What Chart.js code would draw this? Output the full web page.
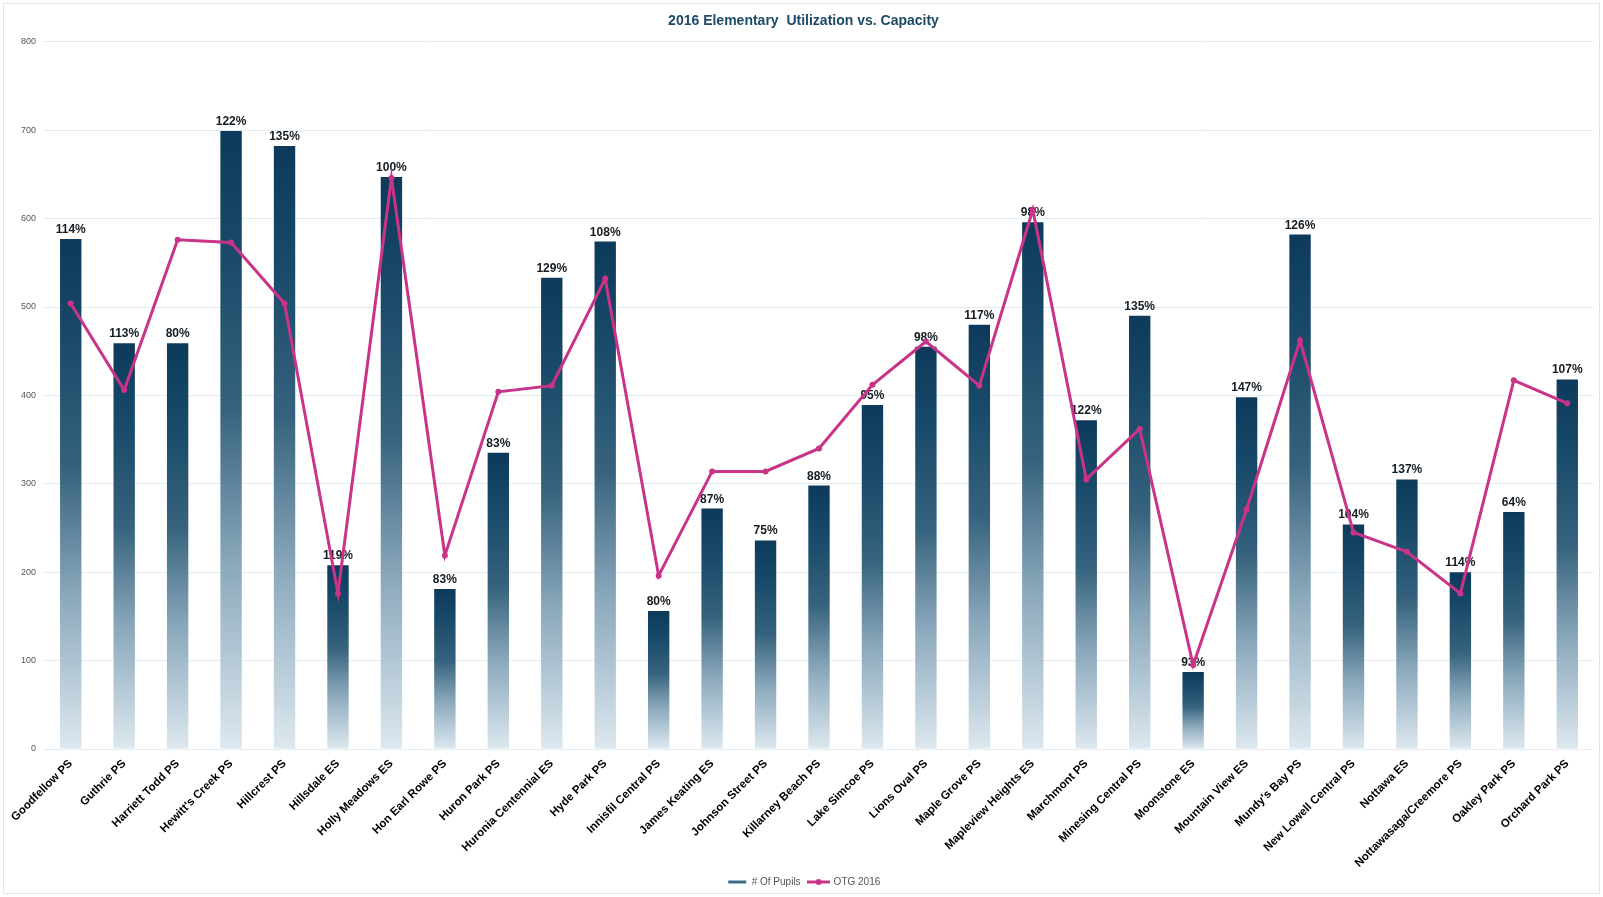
<!DOCTYPE html>
<html>
<head>
<meta charset="utf-8">
<script src="https://cdn.jsdelivr.net/npm/chart.js@4.4.0/dist/chart.umd.min.js"></script>
<style>
html,body{margin:0;padding:0;background:#fff;}
canvas{display:block;}
</style>
</head>
<body>
<canvas id="c" width="1603" height="897"></canvas>
<script>
const categories = ["Goodfellow PS","Guthrie PS","Harriett Todd PS","Hewitt's Creek PS","Hillcrest PS","Hillsdale ES","Holly Meadows ES","Hon Earl Rowe PS","Huron Park PS","Huronia Centennial ES","Hyde Park PS","Innisfil Central PS","James Keating ES","Johnson Street PS","Killarney Beach PS","Lake Simcoe PS","Lions Oval PS","Maple Grove PS","Mapleview Heights ES","Marchmont PS","Minesing Central PS","Moonstone ES","Mountain View ES","Mundy's Bay PS","New Lowell Central PS","Nottawa ES","Nottawasaga/Creemore PS","Oakley Park PS","Orchard Park PS"];
const pupils = [577, 459, 459, 699, 682, 208, 647, 181, 335, 533, 574, 156, 272, 236, 298, 389, 455, 480, 596, 372, 490, 87, 398, 582, 254, 305, 200, 268, 418];
const otg2016 = [504, 406, 576, 573, 504, 176, 646, 219, 404, 411, 532, 196, 314, 314, 340, 412, 461, 411, 610, 305, 362, 95, 271, 462, 245, 223, 176, 417, 391];
const utilization = ["114%","113%","80%","122%","135%","119%","100%","83%","83%","129%","108%","80%","87%","75%","88%","95%","98%","117%","98%","122%","135%","93%","147%","126%","104%","137%","114%","64%","107%"];
const seriesNames = ["# Of Pupils", "OTG 2016"];
const chartTitle = "2016 Elementary  Utilization vs. Capacity";
const yMin = 0, yMax = 800, yStep = 100;

const FONT = "'Liberation Sans', Arial, sans-serif";
const LINE_COLOR = '#c93489';

function barGradient(ctx) {
  const chart = ctx.chart;
  if (!chart.chartArea || ctx.type !== 'data') return '#2d5a75';
  const ys = chart.scales.y;
  const top = ys.getPixelForValue(ctx.raw);
  const bot = ys.getPixelForValue(0);
  if (!isFinite(top) || !isFinite(bot) || bot - top < 1) return '#0f3d5c';
  const g = chart.ctx.createLinearGradient(0, top, 0, bot);
  g.addColorStop(0, '#0d3a5a');
  g.addColorStop(0.2, '#194a69');
  g.addColorStop(0.45, '#36627d');
  g.addColorStop(0.7, '#8aa8bb');
  g.addColorStop(1, '#dde8ef');
  return g;
}

function makeSwatch(kind) {
  const cv = document.createElement('canvas');
  cv.width = 23; cv.height = 8;
  const c = cv.getContext('2d');
  if (kind === 0) {
    c.fillStyle = '#9fb7c7';
    c.fillRect(3, 2, 18, 4);
    c.fillStyle = '#3b6a88';
    c.fillRect(3, 3, 18, 2);
  } else {
    c.strokeStyle = LINE_COLOR;
    c.lineWidth = 3;
    c.beginPath(); c.moveTo(0, 4); c.lineTo(23, 4); c.stroke();
    c.fillStyle = LINE_COLOR;
    c.beginPath(); c.arc(11.5, 4, 3, 0, Math.PI * 2); c.fill();
  }
  return cv;
}
const swatches = [makeSwatch(0), makeSwatch(1)];

const framePlugin = {
  id: 'frame',
  beforeDraw(chart) {
    const c = chart.ctx;
    c.save();
    c.fillStyle = '#ffffff';
    c.fillRect(0, 0, chart.width, chart.height);
    c.strokeStyle = '#dde6ee';
    c.lineWidth = 1;
    c.strokeRect(3.5, 3.5, chart.width - 7, chart.height - 7);
    c.restore();
  }
};

const valueLabelPlugin = {
  id: 'valueLabels',
  afterDatasetDraw(chart, args) {
    if (args.index !== 0) return;
    const c = chart.ctx;
    const meta = chart.getDatasetMeta(0);
    c.save();
    c.font = 'bold 12px ' + FONT;
    c.fillStyle = '#141c22';
    c.textAlign = 'center';
    c.textBaseline = 'alphabetic';
    meta.data.forEach((el, i) => {
      c.fillText(utilization[i], el.x, el.y - 6);
    });
    c.restore();
  }
};

new Chart(document.getElementById('c'), {
  data: {
    labels: categories,
    datasets: [
      {
        type: 'bar',
        label: seriesNames[0],
        data: pupils,
        backgroundColor: barGradient,
        borderWidth: 0,
        barPercentage: 0.4,
        categoryPercentage: 1.0,
        order: 1
      },
      {
        type: 'line',
        label: seriesNames[1],
        data: otg2016,
        borderColor: LINE_COLOR,
        backgroundColor: LINE_COLOR,
        borderWidth: 3,
        pointRadius: 3,
        pointHoverRadius: 3,
        pointBackgroundColor: LINE_COLOR,
        pointBorderWidth: 0,
        tension: 0,
        fill: false,
        order: 0
      }
    ]
  },
  options: {
    responsive: false,
    animation: false,
    devicePixelRatio: 1,
    layout: { padding: { left: 13, right: 9, top: 0, bottom: 0 } },
    plugins: {
      title: {
        display: true,
        text: chartTitle,
        color: '#1d4a66',
        font: { family: FONT, size: 14, weight: 'bold' },
        padding: { top: 13, bottom: 12 }
      },
      legend: {
        display: true,
        position: 'bottom',
        labels: {
          usePointStyle: true,
          pointStyleWidth: 20,
          color: '#555',
          font: { family: FONT, size: 10 },
          padding: 8,
          generateLabels(chart) {
            return seriesNames.map((n, i) => ({
              text: n,
              pointStyle: swatches[i],
              fillStyle: i === 0 ? '#3b6a88' : LINE_COLOR,
              strokeStyle: i === 0 ? '#3b6a88' : LINE_COLOR,
              lineWidth: 0,
              hidden: false,
              datasetIndex: i,
              fontColor: '#555'
            }));
          }
        }
      },
      tooltip: { enabled: false }
    },
    scales: {
      x: {
        grid: { display: false, drawTicks: false },
        border: { display: false },
        afterFit(scale) { scale.height = 120; },
        ticks: {
          autoSkip: false,
          maxRotation: 45,
          minRotation: 45,
          color: '#000',
          padding: 8,
          font: { family: FONT, size: 11.5, weight: 'bold' }
        }
      },
      y: {
        min: yMin,
        max: yMax,
        grid: { color: '#e3ecf2', drawTicks: false, lineWidth: 1 },
        border: { display: false },
        ticks: {
          stepSize: yStep,
          color: '#555',
          padding: 8,
          font: { family: FONT, size: 9 }
        }
      }
    }
  },
  plugins: [framePlugin, valueLabelPlugin]
});
</script>
</body>
</html>
